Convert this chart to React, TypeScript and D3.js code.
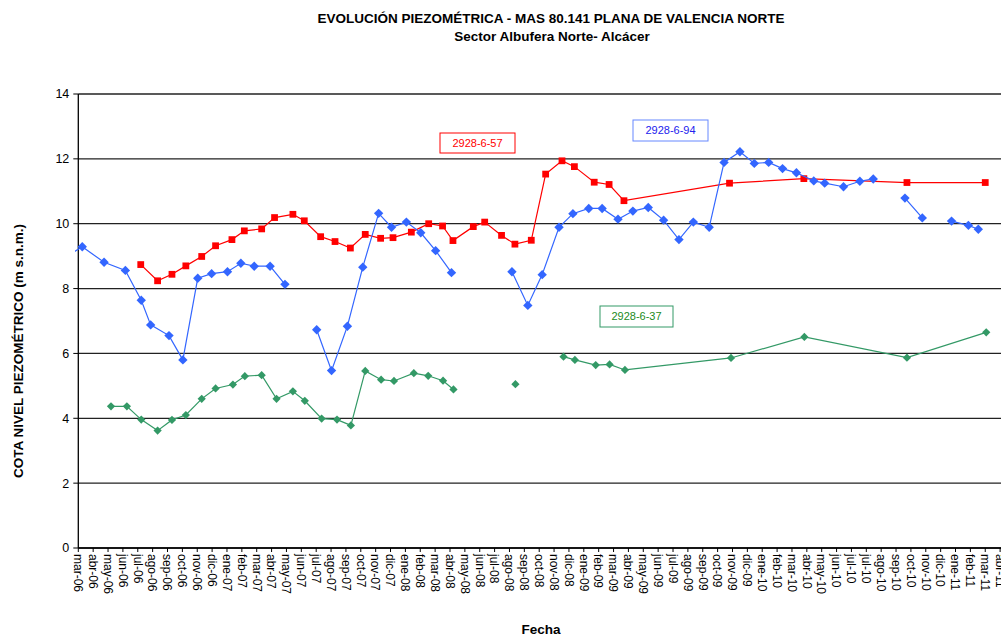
import React, { useMemo } from "react";
import * as d3 from "d3";

const WIDTH = 1001;
const HEIGHT = 636;
const MARGIN = { top: 94, left: 78.3, bottom: 88 };
const PX_PER_DAY = 0.4956;

// Excel date axis: first tick on 24-mar-2006, one tick every 30 days
const AXIS_START = "2006-03-24";
const TICK_STEP_DAYS = 30;
const TICK_COUNT = 63;
const MONTHS = ["ene", "feb", "mar", "abr", "may", "jun", "jul", "ago", "sep", "oct", "nov", "dic"];
const Y_TICKS = [0, 2, 4, 6, 8, 10, 12, 14];

const TITLE = "EVOLUCIÓN PIEZOMÉTRICA - MAS 80.141 PLANA DE VALENCIA NORTE";
const SUBTITLE = "Sector Albufera Norte- Alcácer";
const Y_TITLE = "COTA NIVEL PIEZOMÉTRICO (m s.n.m.)";
const X_TITLE = "Fecha";

// 2928-6-94 (null = no measurement, breaks the line)
const dates94 = [
  "2006-03-02", "2006-04-01", "2006-05-15", "2006-06-27", "2006-07-29", "2006-08-17", "2006-09-23",
  "2006-10-21", "2006-11-20", "2006-12-18", "2007-01-19", "2007-02-15", "2007-03-14", "2007-04-15",
  "2007-05-15", "2007-06-15", "2007-07-18", "2007-08-17", "2007-09-18", "2007-10-19", "2007-11-20",
  "2007-12-16", "2008-01-15", "2008-02-13", "2008-03-14", "2008-04-15", "2008-06-15", "2008-08-15",
  "2008-09-16", "2008-10-15", "2008-11-18", "2008-12-16", "2009-01-17", "2009-02-13", "2009-03-17",
  "2009-04-16", "2009-05-17", "2009-06-17", "2009-07-18", "2009-08-16", "2009-09-17", "2009-10-17",
  "2009-11-18", "2009-12-17", "2010-01-15", "2010-02-12", "2010-03-12", "2010-04-16", "2010-05-08",
  "2010-06-15", "2010-07-18", "2010-08-14", "2010-09-15", "2010-10-17", "2010-11-21", "2010-12-20",
  "2011-01-19", "2011-02-22", "2011-03-14",
];
const values94 = [
  9.0, 9.29, 8.81, 8.56, 7.64, 6.88, 6.55,
  5.8, 8.32, 8.46, 8.52, 8.78, 8.69, 8.69,
  8.13, null, 6.73, 5.47, 6.84, 8.66, 10.32,
  9.89, 10.05, 9.72, 9.17, 8.49, null, 8.52,
  7.48, 8.43, 9.89, 10.31, 10.47, 10.47, 10.14,
  10.39, 10.5, 10.11, 9.51, 10.05, 9.89, 11.89,
  12.22, 11.86, 11.89, 11.7, 11.57, 11.32, 11.25,
  11.14, 11.31, 11.38, null, 10.79, 10.18, null,
  10.08, 9.95, 9.83,
];

// 2928-6-57
const dates57 = [
  "2006-07-28", "2006-08-31", "2006-09-29", "2006-10-27", "2006-11-28", "2006-12-26", "2007-01-28",
  "2007-02-22", "2007-03-29", "2007-04-24", "2007-05-31", "2007-06-23", "2007-07-26", "2007-08-24",
  "2007-09-24", "2007-10-24", "2007-11-24", "2007-12-19", "2008-01-25", "2008-02-29", "2008-03-28",
  "2008-04-18", "2008-05-29", "2008-06-21", "2008-07-25", "2008-08-21", "2008-09-23", "2008-10-22",
  "2008-11-24", "2008-12-19", "2009-01-28", "2009-02-27", "2009-03-29", "2009-10-28", "2010-03-27",
  "2010-10-21", "2011-03-28",
];
const values57 = [
  8.74, 8.24, 8.44, 8.7, 8.99, 9.32, 9.51,
  9.78, 9.84, 10.19, 10.29, 10.09, 9.6, 9.45,
  9.25, 9.67, 9.55, 9.57, 9.74, 10.0, 9.93,
  9.48, 9.91, 10.05, 9.64, 9.37, 9.49, 11.53,
  11.94, 11.76, 11.28, 11.21, 10.71, 11.25, 11.39,
  11.27, 11.27,
];

// 2928-6-37
const dates37 = [
  "2006-05-29", "2006-06-30", "2006-07-29", "2006-08-31", "2006-09-29", "2006-10-27", "2006-11-28",
  "2006-12-26", "2007-01-30", "2007-02-23", "2007-03-29", "2007-04-28", "2007-05-31", "2007-06-24",
  "2007-07-28", "2007-08-28", "2007-09-25", "2007-10-24", "2007-11-25", "2007-12-21", "2008-01-30",
  "2008-02-28", "2008-03-29", "2008-04-19", "2008-06-15", "2008-08-22", "2008-10-15", "2008-11-27",
  "2008-12-20", "2009-01-31", "2009-02-28", "2009-03-31", "2009-10-31", "2010-03-28", "2010-10-21",
  "2011-03-30",
];
const values37 = [
  4.37, 4.37, 3.96, 3.62, 3.95, 4.1, 4.6,
  4.92, 5.04, 5.3, 5.33, 4.6, 4.83, 4.54,
  3.99, 3.96, 3.78, 5.46, 5.19, 5.15, 5.39,
  5.31, 5.16, 4.89, null, 5.05, null, 5.9,
  5.8, 5.64, 5.66, 5.49, 5.86, 6.51, 5.87,
  6.65,
];

type Pt = { date: Date; value: number | null };

const parse = d3.timeParse("%Y-%m-%d");
const toPoints = (dates: string[], values: (number | null)[]): Pt[] =>
  dates.map((d, i) => ({ date: parse(d) as Date, value: values[i] }));

const SERIES = [
  { name: "2928-6-57", points: toPoints(dates57, values57), color: "#FF0000", marker: "square", size: 46 },
  { name: "2928-6-94", points: toPoints(dates94, values94), color: "#3366FF", marker: "diamond", size: 44 },
  { name: "2928-6-37", points: toPoints(dates37, values37), color: "#339966", marker: "diamond", size: 34 },
];

const LABELS = [
  { text: "2928-6-57", x: 440, y: 133, w: 75, h: 20, color: "#FF0000", border: "#FF0000" },
  { text: "2928-6-94", x: 633, y: 120, w: 75, h: 21, color: "#2222EE", border: "#6688FF" },
  { text: "2928-6-37", x: 600, y: 306, w: 73, h: 21, color: "#228B22", border: "#339966" },
];

const FONT = "'Liberation Sans', Arial, sans-serif";

const App = () => {
  const start = parse(AXIS_START) as Date;
  const bottom = HEIGHT - MARGIN.bottom;

  const xScale = useMemo(() => {
    const end = d3.timeDay.offset(start, TICK_STEP_DAYS * (TICK_COUNT - 1));
    const days = d3.timeDay.count(start, end);
    return d3.scaleTime().domain([start, end]).range([MARGIN.left, MARGIN.left + days * PX_PER_DAY]);
  }, []);

  const yScale = useMemo(
    () => d3.scaleLinear().domain([0, 14]).range([bottom, MARGIN.top]),
    [bottom]
  );

  const ticks = d3.range(TICK_COUNT).map((k) => d3.timeDay.offset(start, k * TICK_STEP_DAYS));
  const fmtTick = (d: Date) => `${MONTHS[d.getMonth()]}-${d3.timeFormat("%y")(d)}`;

  const line = d3
    .line<Pt>()
    .defined((d) => d.value !== null)
    .x((d) => xScale(d.date))
    .y((d) => yScale(d.value as number));

  const symbolPath = (size: number) => d3.symbol().type(d3.symbolSquare).size(size)() as string;

  return (
    <svg
      width={WIDTH}
      height={HEIGHT}
      style={{ position: "absolute", left: 0, top: 0, background: "#fff" }}
      fontFamily={FONT}
    >
      <defs>
        <clipPath id="plot-clip">
          <rect x={75} y={0} width={WIDTH} height={HEIGHT} />
        </clipPath>
      </defs>

      {/* titles */}
      <text x={551} y={23} textAnchor="middle" fontSize={13.5} fontWeight="bold">{TITLE}</text>
      <text x={552} y={41} textAnchor="middle" fontSize={13.5} fontWeight="bold">{SUBTITLE}</text>

      {/* horizontal gridlines */}
      {Y_TICKS.map((t) => (
        <g key={t}>
          <line x1={MARGIN.left} x2={WIDTH} y1={yScale(t)} y2={yScale(t)} stroke="#222" strokeWidth={1.3} />
          <line x1={MARGIN.left - 5} x2={MARGIN.left} y1={yScale(t)} y2={yScale(t)} stroke="#000" />
          <text x={MARGIN.left - 9} y={yScale(t)} dy="0.35em" textAnchor="end" fontSize={12.5}>{t}</text>
        </g>
      ))}

      {/* axes */}
      <line x1={MARGIN.left} x2={MARGIN.left} y1={MARGIN.top} y2={bottom} stroke="#000" strokeWidth={1.3} />
      <line x1={MARGIN.left} x2={WIDTH} y1={bottom} y2={bottom} stroke="#000" strokeWidth={1.3} />

      {ticks.map((d, i) => {
        const x = xScale(d);
        return (
          <g key={i}>
            <line x1={x} x2={x} y1={bottom} y2={bottom + 4} stroke="#000" />
            <text transform={`translate(${x},${bottom + 6}) rotate(90)`} dy="0.35em" fontSize={12}>
              {fmtTick(d)}
            </text>
          </g>
        );
      })}

      <text x={541} y={634} textAnchor="middle" fontSize={13.5} fontWeight="bold">{X_TITLE}</text>
      <text
        transform={`translate(23,351) rotate(-90)`}
        textAnchor="middle"
        fontSize={13.5}
        fontWeight="bold"
      >
        {Y_TITLE}
      </text>

      {/* series */}
      <g clipPath="url(#plot-clip)">
        {SERIES.map((s) => (
          <g key={s.name}>
            <path d={line(s.points) || ""} fill="none" stroke={s.color} strokeWidth={1.2} />
            {s.points
              .filter((p) => p.value !== null)
              .map((p, i) => (
                <path
                  key={i}
                  d={symbolPath(s.size)}
                  transform={`translate(${xScale(p.date)},${yScale(p.value as number)})${
                    s.marker === "diamond" ? " rotate(45)" : ""
                  }`}
                  fill={s.color}
                />
              ))}
          </g>
        ))}
      </g>

      {/* series labels */}
      {LABELS.map((l) => (
        <g key={l.text}>
          <rect x={l.x} y={l.y} width={l.w} height={l.h} fill="#fff" stroke={l.border} strokeWidth={1} />
          <text x={l.x + l.w / 2} y={l.y + l.h / 2} dy="0.35em" textAnchor="middle" fontSize={11} fill={l.color}>
            {l.text}
          </text>
        </g>
      ))}
    </svg>
  );
};

export default App;
